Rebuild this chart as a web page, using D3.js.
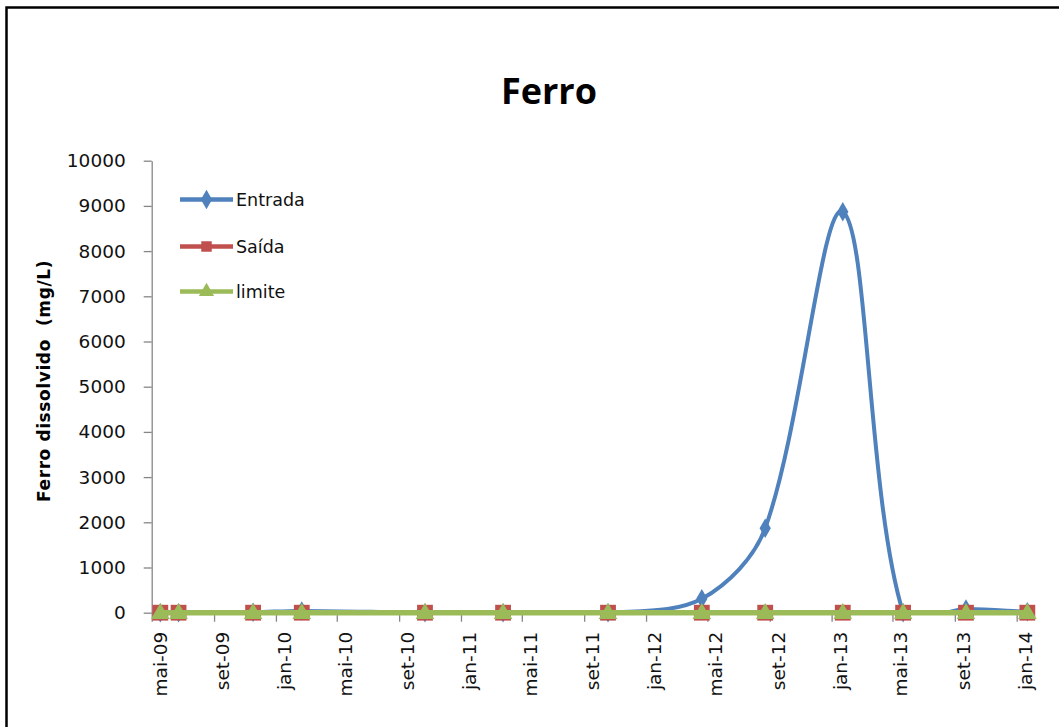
<!DOCTYPE html>
<html>
<head>
<meta charset="utf-8">
<script src="https://cdn.jsdelivr.net/npm/d3@7"></script>
<style>
  html, body { margin: 0; padding: 0; background: #fff; }
  svg { display: block; }
</style>
</head>
<body>
<svg id="chart" width="1059" height="727"></svg>
<script>
// ---- data ----
const sampleDates = ["2009-05-18","2009-06-23","2009-11-17","2010-02-21","2010-10-22","2011-03-25",
  "2011-10-18","2012-04-20","2012-08-23","2013-01-23","2013-05-22","2013-09-23","2014-01-22"];
const entrada = [0, 0, 10, 40, 0, 0, 0, 310, 1870, 8870, 0, 80, 20];
const saida   = [0, 0, 0, 0, 0, 0, 0, 0, 0, 0, 0, 0, 0];
const limite  = [0.3, 0.3, 0.3, 0.3, 0.3, 0.3, 0.3, 0.3, 0.3, 0.3, 0.3, 0.3, 0.3];
const seriesNames = ["Entrada", "Saída", "limite"];
const xTickDates = ["2009-05-01","2009-09-01","2010-01-01","2010-05-01","2010-09-01","2011-01-01",
  "2011-05-01","2011-09-01","2012-01-01","2012-05-01","2012-09-01","2013-01-01","2013-05-01",
  "2013-09-01","2014-01-01"];
const xTickLabels = ["mai-09","set-09","jan-10","mai-10","set-10","jan-11","mai-11","set-11",
  "jan-12","mai-12","set-12","jan-13","mai-13","set-13","jan-14"];
const yTicks = [0,1000,2000,3000,4000,5000,6000,7000,8000,9000,10000];
const titleText = "Ferro";
const yTitle = "Ferro dissolvido  (mg/L)";

// ---- layout ----
const parse = d3.utcParse("%Y-%m-%d");
const svg = d3.select("#chart");
const colors = ["#4F81BD", "#C0504D", "#9BBB59"];
const tickFont = "'DejaVu Sans', sans-serif";
const tickSize = "18.5px";

const plotLeft = 151.7, plotRight = 1032.4, plotTop = 160.7, plotBottom = 612.7;
const x = d3.scaleUtc().domain([parse("2009-05-01"), parse("2014-02-01")]).range([plotLeft, plotRight]);
const y = d3.scaleLinear().domain([0, 10000]).range([plotBottom, plotTop]);

// outer border
svg.append("rect").attr("x", 6.5).attr("y", 7.5).attr("width", 1100).attr("height", 800)
  .attr("fill", "none").attr("stroke", "#000").attr("stroke-width", 2.5);

// title
svg.append("text").attr("x", 549).attr("y", 104).attr("text-anchor", "middle")
  .style("font-family", "'Open Sans', sans-serif").style("font-weight", "bold")
  .style("font-size", "36px").attr("fill", "#000").text(titleText);

// y axis title
svg.append("text").attr("transform", "translate(44,381) rotate(-90)")
  .attr("text-anchor", "middle").attr("dy", "0.35em")
  .style("font-family", tickFont).style("font-weight", "bold").style("font-size", "17px")
  .style("letter-spacing", "0.6px")
  .style("white-space", "pre").attr("fill", "#000").text(yTitle);

// y axis
const yAxis = svg.append("g").attr("transform", `translate(${plotLeft},0)`)
  .call(d3.axisLeft(y).tickValues(yTicks).tickSize(8).tickPadding(18).tickSizeOuter(0)
    .tickFormat(d3.format("d")));
yAxis.select(".domain").attr("stroke", "#868686").attr("stroke-width", 1.3);
yAxis.selectAll(".tick line").attr("stroke", "#868686").attr("stroke-width", 1.3);
yAxis.selectAll(".tick text").style("font-family", tickFont).style("font-size", tickSize).attr("fill", "#111");

// x axis
const tickDates = xTickDates.map(parse);
const xAxis = svg.append("g").attr("transform", `translate(0,${plotBottom})`)
  .call(d3.axisBottom(x).tickValues(tickDates).tickSize(9).tickSizeOuter(0)
    .tickFormat((d, i) => xTickLabels[i]));
xAxis.select(".domain").attr("stroke", "#868686").attr("stroke-width", 1.3);
xAxis.selectAll(".tick line").attr("stroke", "#868686").attr("stroke-width", 1.3);
xAxis.selectAll(".tick text")
  .attr("y", 0).attr("x", 0).attr("dy", "0.35em")
  .attr("transform", "translate(8,19) rotate(-90)")
  .attr("text-anchor", "end")
  .style("font-family", tickFont).style("font-size", tickSize).attr("fill", "#111");

// clip for smoothed line
svg.append("clipPath").attr("id", "plotclip").append("rect")
  .attr("x", plotLeft).attr("y", 0).attr("width", 1059 - plotLeft).attr("height", plotBottom);

const dates = sampleDates.map(parse);

const diamond = d3.symbol().type(d3.symbolDiamond).size(110);
const square = d3.symbol().type(d3.symbolSquare).size(250);
const triangle = d3.symbol().type(d3.symbolTriangle).size(150);

// Excel-like smoothing: Bezier with chord-length-scaled Catmull-Rom tangents
function smoothPath(values) {
  const pts = values.map((v, i) => [x(dates[i]), y(v)]);
  const n = pts.length;
  const dist = (a, b) => Math.hypot(b[0] - a[0], b[1] - a[1]);
  const p = d3.path();
  p.moveTo(pts[0][0], pts[0][1]);
  for (let i = 0; i < n - 1; i++) {
    const p0 = pts[Math.max(i - 1, 0)], p1 = pts[i], p2 = pts[i + 1], p3 = pts[Math.min(i + 2, n - 1)];
    const d01 = dist(p0, p1), d12 = dist(p1, p2), d23 = dist(p2, p3);
    const f1 = (d01 + d12) > 0 ? d12 / (d01 + d12) / 3 : 0;
    const f2 = (d12 + d23) > 0 ? d12 / (d12 + d23) / 3 : 0;
    const c1 = [p1[0] + (p2[0] - p0[0]) * f1, p1[1] + (p2[1] - p0[1]) * f1];
    const c2 = [p2[0] - (p3[0] - p1[0]) * f2, p2[1] - (p3[1] - p1[1]) * f2];
    p.bezierCurveTo(c1[0], c1[1], c2[0], c2[1], p2[0], p2[1]);
  }
  return p.toString();
}
const lineStraight = d3.line().x((d, i) => x(dates[i])).y(d => y(d));

// Entrada (smooth)
svg.append("path").attr("d", smoothPath(entrada)).attr("fill", "none")
  .attr("stroke", colors[0]).attr("stroke-width", 4).attr("clip-path", "url(#plotclip)");
svg.append("g").selectAll("path").data(entrada).join("path")
  .attr("transform", (d, i) => `translate(${x(dates[i])},${y(d)})`)
  .attr("d", diamond).attr("fill", colors[0]);

// Saída
svg.append("path").datum(saida).attr("d", lineStraight).attr("fill", "none")
  .attr("stroke", colors[1]).attr("stroke-width", 4);
svg.append("g").selectAll("path").data(saida).join("path")
  .attr("transform", (d, i) => `translate(${x(dates[i])},${y(d)})`)
  .attr("d", square).attr("fill", colors[1]);

// limite
svg.append("path").datum(limite).attr("d", lineStraight).attr("fill", "none")
  .attr("stroke", colors[2]).attr("stroke-width", 5.5);
svg.append("g").selectAll("path").data(limite).join("path")
  .attr("transform", (d, i) => `translate(${x(dates[i])},${y(d) + 1})`)
  .attr("d", triangle).attr("fill", colors[2]);

// legend
const legendSymbols = [diamond, d3.symbol().type(d3.symbolSquare).size(110), d3.symbol().type(d3.symbolTriangle).size(100)];
const legendY = [199.5, 246.5, 291.5];
seriesNames.forEach((name, i) => {
  const g = svg.append("g").attr("transform", `translate(0,${legendY[i]})`);
  g.append("line").attr("x1", 180).attr("x2", 233).attr("y1", 0).attr("y2", 0)
    .attr("stroke", colors[i]).attr("stroke-width", 4.5);
  g.append("path").attr("transform", "translate(206.5,0)").attr("d", legendSymbols[i]).attr("fill", colors[i]);
  g.append("text").attr("x", 236).attr("y", 0).attr("dy", "0.35em")
    .style("font-family", tickFont).style("font-size", "17.5px").attr("fill", "#111").text(name);
});
</script>
</body>
</html>
